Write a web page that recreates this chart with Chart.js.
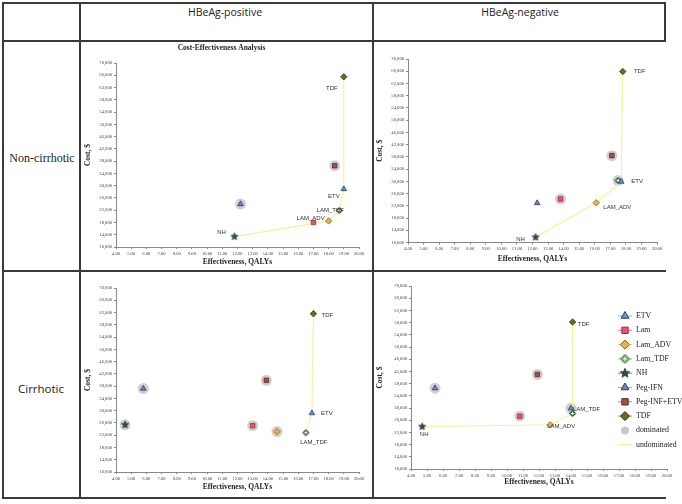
<!DOCTYPE html>
<html>
<head>
<meta charset="utf-8">
<script src="https://cdn.jsdelivr.net/npm/chart.js@4.4.1/dist/chart.umd.min.js"></script>
<style>
body { margin: 0; width: 682px; height: 504px; background: #fff; position: relative; overflow: hidden; }
.ln { position: absolute; background: #3a3a3a; }
.tx { position: absolute; transform: translate(-50%, -50%); white-space: nowrap; color: #222; }
.sans { font-family: "Open Sans", sans-serif; }
.serif { font-family: "Liberation Serif", "DejaVu Serif", serif; }
canvas { position: absolute; }
</style>
</head>
<body>
<div class="ln" style="left:2px;top:2px;width:664px;height:1.5px"></div>
<div class="ln" style="left:2px;top:40px;width:664px;height:1.5px"></div>
<div class="ln" style="left:2px;top:270px;width:664px;height:1.5px"></div>
<div class="ln" style="left:2px;top:497px;width:664px;height:1.5px"></div>
<div class="ln" style="left:2px;top:2px;width:1.5px;height:496px"></div>
<div class="ln" style="left:79px;top:2px;width:1.5px;height:496px"></div>
<div class="ln" style="left:372px;top:2px;width:1.5px;height:496px"></div>
<div class="ln" style="left:664px;top:2px;width:1.5px;height:40px"></div>

<div class="tx sans" style="left:225px;top:12px;font-size:10.5px">HBeAg-positive</div>
<div class="tx sans" style="left:520px;top:12px;font-size:10.5px">HBeAg-negative</div>
<div class="tx serif" style="left:42px;top:158px;font-size:12px">Non-cirrhotic</div>
<div class="tx sans" style="left:41px;top:388px;font-size:11.5px">Cirrhotic</div>

<canvas id="posNon" width="283" height="227" style="left:84px;top:40px"></canvas>
<canvas id="negNon" width="289" height="211" style="left:376px;top:53px"></canvas>
<canvas id="posCir" width="283" height="210" style="left:84px;top:282px"></canvas>
<canvas id="negCir" width="306" height="207" style="left:376px;top:280px"></canvas>

<script>
var strategies = ['ETV', 'Lam', 'Lam_ADV', 'Lam_TDF', 'NH', 'Peg-IFN', 'Peg-INF+ETV', 'TDF'];
var xTicks = [4, 20, 1];
var yTicks = [10000, 70000, 4000];

// HBeAg-positive, non-cirrhotic (QALYs, cost $) in strategy order
var posNonQaly = [19.0, 17.0, 18.0, 18.7, 11.8, 12.2, 18.4, 19.0];
var posNonCost = [28900, 18000, 18500, 21900, 13400, 24000, 36500, 65500];
var posNonDominated = ['Peg-IFN', 'Peg-INF+ETV'];
var posNonFrontier = ['NH', 'Lam_ADV', 'Lam_TDF', 'ETV', 'TDF'];

// HBeAg-negative, non-cirrhotic
var negNonQaly = [17.7, 13.8, 16.1, 17.5, 12.2, 12.3, 17.1, 17.8];
var negNonCost = [29900, 24200, 23000, 30300, 11700, 22900, 38400, 65900];
var negNonDominated = ['Lam', 'Peg-INF+ETV', 'Lam_TDF'];
var negNonFrontier = ['NH', 'Lam_ADV', 'ETV', 'TDF'];

// HBeAg-positive, cirrhotic
var posCirQaly = [16.9, 13.0, 14.6, 16.5, 4.6, 5.8, 13.9, 17.0];
var posCirCost = [29200, 25100, 23200, 22800, 25400, 37200, 39900, 61600];
var posCirDominated = ['NH', 'Peg-IFN', 'Lam', 'Lam_ADV', 'Peg-INF+ETV'];
var posCirFrontier = ['Lam_TDF', 'ETV', 'TDF'];

// HBeAg-negative, cirrhotic
var negCirQaly = [14.0, 10.8, 12.7, 14.1, 4.7, 5.5, 11.9, 14.1];
var negCirCost = [29900, 27300, 24500, 28200, 23900, 36500, 41000, 58200];
var negCirDominated = ['Peg-IFN', 'Peg-INF+ETV', 'Lam', 'ETV'];
var negCirFrontier = ['NH', 'Lam_ADV', 'Lam_TDF', 'TDF'];

// styles
var fills = ['#5b9bd5', '#f0506e', '#e8b04a', '#5faf5f', '#2f4f4f', '#8080c8', '#a0504e', '#6b6b23'];
var edges = ['#1f3f6f', '#9a2f40', '#8b6914', '#2f4f2f', '#1a2a2a', '#303068', '#5a2a2a', '#333300'];
var legendLines = ['#7fb3e0', '#f07a90', '#f0c070', '#8fcf8f', '#6a8a8a', '#a0a0d8', '#c08080', '#a0a040'];

function starImg(r, fill, stroke) {
    var c = document.createElement('canvas');
    var s = Math.ceil(r * 2 + 2);
    c.width = s; c.height = s;
    var g = c.getContext('2d');
    g.beginPath();
    for (var i = 0; i < 10; i++) {
        var a = -Math.PI / 2 + i * Math.PI / 5;
        var rr = i % 2 ? r * 0.45 : r;
        g.lineTo(s / 2 + rr * Math.cos(a), s / 2 + rr * Math.sin(a));
    }
    g.closePath();
    g.fillStyle = fill; g.fill();
    g.strokeStyle = stroke; g.lineWidth = 0.7; g.stroke();
    return c;
}
function crossDiamondImg(r, fill, stroke) {
    var c = document.createElement('canvas');
    var s = Math.ceil(r * 2 + 2);
    c.width = s; c.height = s;
    var g = c.getContext('2d');
    var m = s / 2;
    g.beginPath();
    g.moveTo(m, m - r); g.lineTo(m + r, m); g.lineTo(m, m + r); g.lineTo(m - r, m);
    g.closePath();
    g.fillStyle = fill; g.fill();
    g.strokeStyle = stroke; g.lineWidth = 0.8; g.stroke();
    g.beginPath();
    g.moveTo(m - r * 0.5, m); g.lineTo(m + r * 0.5, m);
    g.moveTo(m, m - r * 0.5); g.lineTo(m, m + r * 0.5);
    g.strokeStyle = '#fff'; g.lineWidth = 1; g.stroke();
    return c;
}
function styles(r) {
    return ['triangle', 'rect', 'rectRot', crossDiamondImg(r, '#3d6b3d', '#1f3f1f'), starImg(r + 0.5, fills[4], edges[4]), 'triangle', 'rect', 'rectRot'];
}
var chartStyles = styles(3.2);
var legendStyles = styles(4.5);
legendStyles[3] = crossDiamondImg(4.5, fills[3], edges[3]);

function pt(qaly, cost, name) {
    var i = strategies.indexOf(name);
    return {x: qaly[i], y: cost[i]};
}

var tagPlugin = {
    id: 'tags',
    afterDatasetsDraw: function(chart) {
        var o = chart.options.plugins.tags;
        if (!o) return;
        var ctx = chart.ctx;
        ctx.save();
        ctx.font = '6px "Liberation Sans"';
        ctx.fillStyle = '#333';
        ctx.textAlign = 'center';
        ctx.textBaseline = 'middle';
        o.names.forEach(function(n) {
            var p = pt(o.qaly, o.cost, n);
            var off = o.offsets[n];
            ctx.fillText(n.toUpperCase(), chart.scales.x.getPixelForValue(p.x) + off[0], chart.scales.y.getPixelForValue(p.y) + off[1]);
        });
        ctx.restore();
    }
};

var legendPlugin = {
    id: 'sideLegend',
    afterDraw: function(chart) {
        var o = chart.options.plugins.sideLegend;
        if (!o) return;
        var ctx = chart.ctx;
        var names = strategies.concat(['dominated', 'undominated']);
        ctx.save();
        ctx.font = '7.8px "Liberation Serif"';
        ctx.textBaseline = 'middle';
        names.forEach(function(n, i) {
            var x = o.x, y = o.y + i * o.step;
            ctx.lineWidth = 1;
            if (i < strategies.length || n == 'undominated') {
                ctx.strokeStyle = i < strategies.length ? legendLines[i] : '#f0f080';
                ctx.beginPath(); ctx.moveTo(x - 7, y); ctx.lineTo(x + 7, y); ctx.stroke();
            }
            if (i < strategies.length) {
                ctx.fillStyle = fills[i]; ctx.strokeStyle = edges[i];
                Chart.helpers.drawPoint(ctx, {pointStyle: legendStyles[i], radius: 4.5, borderWidth: 0.8, rotation: 0}, x, y);
            } else if (n == 'dominated') {
                ctx.fillStyle = '#c8c8c8'; ctx.strokeStyle = '#c8c8c8';
                Chart.helpers.drawPoint(ctx, {pointStyle: 'circle', radius: 4, borderWidth: 0, rotation: 0}, x, y);
            }
            ctx.fillStyle = '#222';
            ctx.fillText(n, x + 11, y);
        });
        ctx.restore();
    }
};

function makeChart(id, qaly, cost, dominated, frontier, tags, geo) {
    var sets = strategies.map(function(n, i) {
        return {
            label: n, data: [{x: qaly[i], y: cost[i]}],
            pointStyle: chartStyles[i], pointRadius: 3.2, pointBorderWidth: 0.8,
            backgroundColor: fills[i], borderColor: edges[i], order: 1
        };
    });
    sets.push({
        label: 'dominated', data: dominated.map(function(n) { return pt(qaly, cost, n); }),
        pointStyle: 'circle', pointRadius: 5.5, backgroundColor: '#cfcfcf', borderColor: '#cfcfcf', borderWidth: 0, order: 3
    });
    sets.push({
        label: 'undominated', data: frontier.map(function(n) { return pt(qaly, cost, n); }),
        showLine: true, pointRadius: 0, borderColor: '#f2f2a0', borderWidth: 1.2, order: 2
    });
    var axisTitle = {family: 'Liberation Serif', size: 7.5, weight: 'bold'};
    var tickFont = {family: 'Liberation Serif', size: 4.6};
    return new Chart(document.getElementById(id), {
        type: 'scatter',
        data: {datasets: sets},
        options: {
            responsive: false, animation: false, devicePixelRatio: 1,
            layout: {padding: {top: geo.top, right: geo.right, left: 0, bottom: 0}},
            plugins: {
                legend: {display: false}, tooltip: {enabled: false},
                title: geo.title ? {display: true, text: geo.title, color: '#222', font: axisTitle, padding: {top: 3.5, bottom: 10.5}} : {display: false},
                tags: {names: tags, qaly: qaly, cost: cost, offsets: geo.offsets},
                sideLegend: geo.legend
            },
            scales: {
                x: {
                    type: 'linear', min: xTicks[0], max: xTicks[1],
                    ticks: {stepSize: xTicks[2], autoSkip: false, maxRotation: 0, padding: 2, font: tickFont, color: '#444',
                        callback: function(v) { return v.toFixed(2); }},
                    grid: {drawOnChartArea: false, tickLength: 2, color: '#888'},
                    border: {color: '#888'},
                    title: {display: true, text: 'Effectiveness, QALYs', color: '#222', font: axisTitle, padding: 0},
                    afterFit: function(s) { s.height = geo.xh; }
                },
                y: {
                    type: 'linear', min: yTicks[0], max: yTicks[1],
                    ticks: {stepSize: yTicks[2], autoSkip: false, padding: 2, font: tickFont, color: '#444',
                        callback: function(v) { return v.toLocaleString('en-US'); }},
                    grid: {drawOnChartArea: false, tickLength: 2, color: '#888'},
                    border: {color: '#888'},
                    title: {display: true, text: 'Cost, $', color: '#222', font: axisTitle, padding: 0},
                    afterFit: function(s) { s.width = geo.yw; }
                }
            }
        },
        plugins: [tagPlugin, legendPlugin]
    });
}

makeChart('posNon', posNonQaly, posNonCost, posNonDominated, posNonFrontier,
    ['NH', 'Lam_ADV', 'Lam_TDF', 'ETV', 'TDF'],
    {top: 0, right: 8, xh: 20, yw: 32, title: 'Cost-Effectiveness Analysis',
     offsets: {NH: [-13, -4], Lam_ADV: [-18, -3], Lam_TDF: [-9, 0], ETV: [-10, 7], TDF: [-12, 12]}});
makeChart('negNon', negNonQaly, negNonCost, negNonDominated, negNonFrontier,
    ['NH', 'Lam_ADV', 'ETV', 'TDF'],
    {top: 6, right: 8, xh: 21.5, yw: 32,
     offsets: {NH: [-15, 2], Lam_ADV: [21, 5], ETV: [16, 0], TDF: [17, 0]}});
makeChart('posCir', posCirQaly, posCirCost, posCirDominated, posCirFrontier,
    ['Lam_TDF', 'ETV', 'TDF'],
    {top: 6, right: 8, xh: 20, yw: 32,
     offsets: {Lam_TDF: [8, 10], ETV: [15, 0], TDF: [14, 2]}});
makeChart('negCir', negCirQaly, negCirCost, negCirDominated, negCirFrontier,
    ['NH', 'Lam_ADV', 'Lam_TDF', 'TDF'],
    {top: 6, right: 15, xh: 18, yw: 35,
     offsets: {NH: [2, 8], Lam_ADV: [11, 2], Lam_TDF: [14, -4], TDF: [11, 2]},
     legend: {x: 249, y: 36, step: 14.3}});
</script>
</body>
</html>
